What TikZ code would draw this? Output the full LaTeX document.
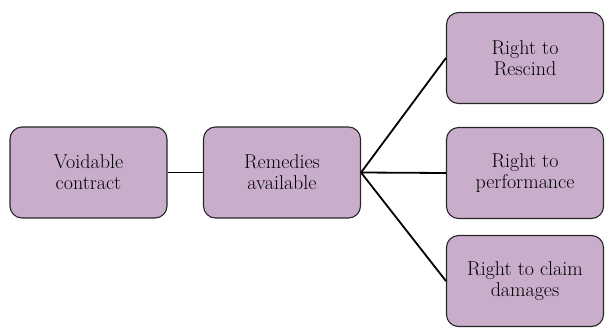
\documentclass[tikz,border=0pt]{standalone}
\definecolor{boxfill}{RGB}{201,174,204}

\begin{document}
\begin{tikzpicture}[x=1pt,y=-1pt,box/.style={draw=black!85,fill=boxfill,rounded corners=12pt,minimum width=157pt,minimum height=91pt,align=center,font=\fontsize{20}{21}\selectfont,line width=1.1pt}]
  \useasboundingbox (0,0) rectangle (605,327);

  \node[box] (void) at (88.5,172.5) {Voidable\\contract};
  \node[box] (rem) at (282,172.5) {Remedies\\available};
  \draw[line width=1.8pt] (void) -- (rem);

  \node[box] (r1) at (525,58) {Right to\\Rescind};
  \node[box] (r2) at (525,173) {Right to\\performance};
  \node[box] (r3) at (525,281) {Right to claim\\damages};
  \foreach \i in {1,...,3} {
    \draw[line width=1.8pt] (rem.east) -- (r\i.west);
  }
\end{tikzpicture}
\end{document}
